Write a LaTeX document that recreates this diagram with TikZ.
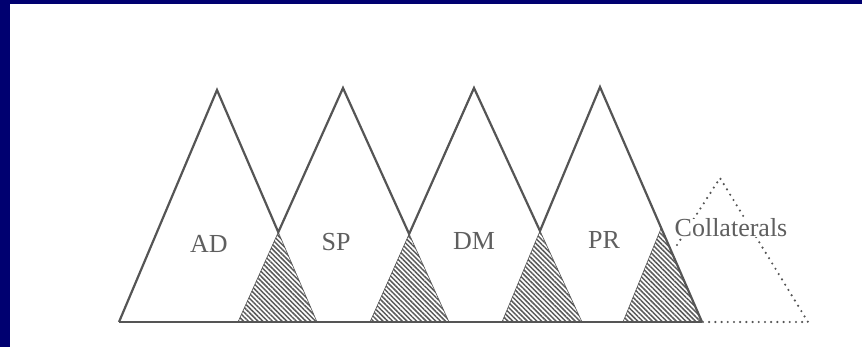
\documentclass[tikz,border=0pt]{standalone}
\usepackage{fontspec}
\setmainfont{Liberation Serif}
\usetikzlibrary{patterns.meta,calc}
\definecolor{navyband}{RGB}{0,0,112}
\definecolor{linegray}{RGB}{85,85,85}
\definecolor{textgray}{RGB}{95,95,95}
\definecolor{hatchgray}{RGB}{90,90,90}
\tikzset{
  outline/.style={draw=linegray, line width=2.2pt, line join=miter},
  hatchbox/.style={pattern={Lines[angle=-45,distance=3.4pt,line width=1.5pt]}, pattern color=hatchgray, draw=linegray, line width=0.6pt},
  dotline/.style={draw=linegray, line width=2.4pt, line cap=round, dash pattern=on 0pt off 6.2pt},
  lbl/.style={text=textgray, font=\fontsize{26}{28}\selectfont, inner sep=0pt}
}
\begin{document}
\begin{tikzpicture}[x=1pt,y=-1pt]
\useasboundingbox (0,0) rectangle (862,347);
\fill[white] (0,0) rectangle (862,347);
\fill[navyband] (0,0) rectangle (10,347);
\fill[navyband] (0,0) rectangle (862,4);
% triangle corners
\coordinate (A1) at (217,90);  \coordinate (L1) at (119,322); \coordinate (R1) at (317,322);
\coordinate (A2) at (343,88);  \coordinate (L2) at (238,322); \coordinate (R2) at (449,322);
\coordinate (A3) at (474,88);  \coordinate (L3) at (370,322); \coordinate (R3) at (582,322);
\coordinate (A4) at (600,87);  \coordinate (L4) at (502,322); \coordinate (R4) at (702,322);
\coordinate (L5) at (623,322);
\coordinate (X1) at (intersection of A1--R1 and A2--L2);
\coordinate (X2) at (intersection of A2--R2 and A3--L3);
\coordinate (X3) at (intersection of A3--R3 and A4--L4);
\coordinate (X4) at ($(A4)!0.6!(R4)$);
% collateral
\coordinate (C) at (720,178);
\coordinate (CR) at (808,322);
\coordinate (CD) at (677,245);
% hatched overlaps
\path[hatchbox] (X1) -- (L2) -- (R1) -- cycle;
\path[hatchbox] (X2) -- (L3) -- (R2) -- cycle;
\path[hatchbox] (X3) -- (L4) -- (R3) -- cycle;
\path[hatchbox] (X4) -- (L5) -- (R4) -- cycle;
% outline
\draw[outline] (L1) -- (A1) -- (X1) -- (A2) -- (X2) -- (A3) -- (X3) -- (A4) -- (R4);
\draw[outline] (L1) -- (R4);
% dotted collateral triangle
\draw[dotline] (CD) -- (C) -- (CR) -- (R4);
% labels
\node[lbl] (ad) at (209,243.5) {AD};
\node[lbl] (sp) at (336,242) {SP};
\node[lbl] (dm) at (474,241.5) {DM};
\node[lbl] (pr) at (604,240) {PR};
\node[lbl, fill=white, anchor=base] (coll) at (731,237) {Collaterals};
\end{tikzpicture}
\end{document}
